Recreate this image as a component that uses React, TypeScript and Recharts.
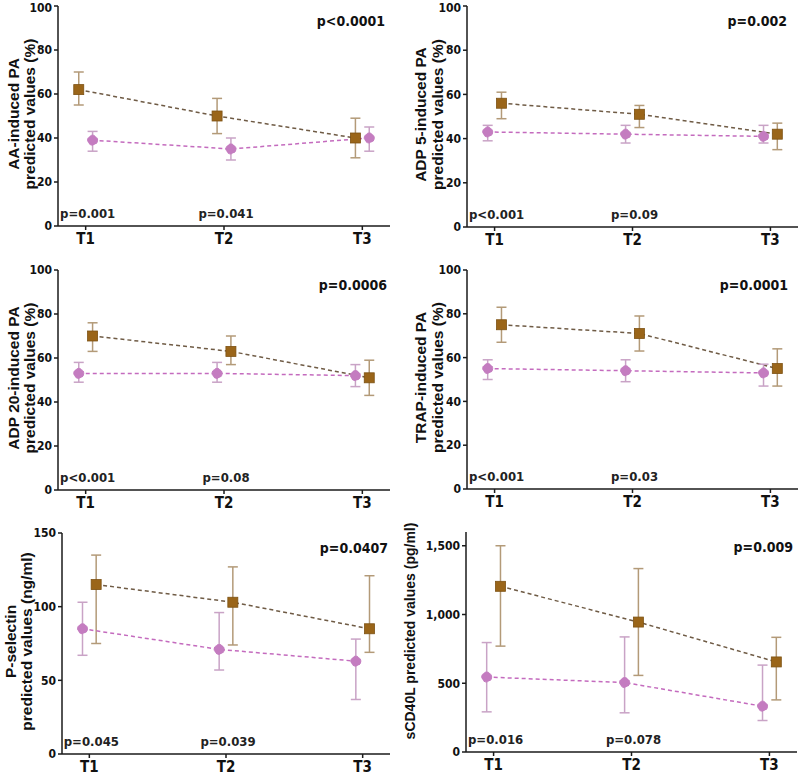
import React from 'react';
import { LineChart, Line, XAxis, YAxis, ErrorBar, ReferenceLine } from 'recharts';

const timepoints = ['T1', 'T2', 'T3'];

// AA-induced PA (%)
const aaBrown = [62, 50, 40];
const aaBrownLow = [55, 42, 31];
const aaBrownHigh = [70, 58, 49];
const aaPurple = [39, 35, 40];
const aaPurpleLow = [34, 30, 34];
const aaPurpleHigh = [43, 40, 45];
const aaPvals = ['p=0.001', 'p=0.041'];

// ADP 5-induced PA (%)
const adp5Brown = [56, 51, 42];
const adp5BrownLow = [49, 45, 35];
const adp5BrownHigh = [61, 55, 47];
const adp5Purple = [43, 42, 41];
const adp5PurpleLow = [39, 38, 38];
const adp5PurpleHigh = [46, 46, 46];
const adp5Pvals = ['p<0.001', 'p=0.09'];

// ADP 20-induced PA (%)
const adp20Brown = [70, 63, 51];
const adp20BrownLow = [63, 57, 43];
const adp20BrownHigh = [76, 70, 59];
const adp20Purple = [53, 53, 52];
const adp20PurpleLow = [49, 49, 47];
const adp20PurpleHigh = [58, 58, 57];
const adp20Pvals = ['p<0.001', 'p=0.08'];

// TRAP-induced PA (%)
const trapBrown = [75, 71, 55];
const trapBrownLow = [67, 63, 47];
const trapBrownHigh = [83, 79, 64];
const trapPurple = [55, 54, 53];
const trapPurpleLow = [50, 49, 47];
const trapPurpleHigh = [59, 59, 57];
const trapPvals = ['p<0.001', 'p=0.03'];

// P-selectin (ng/ml)
const pselBrown = [115, 103, 85];
const pselBrownLow = [75, 74, 69];
const pselBrownHigh = [135, 127, 121];
const pselPurple = [85, 71, 63];
const pselPurpleLow = [67, 57, 37];
const pselPurpleHigh = [103, 96, 78];
const pselPvals = ['p=0.045', 'p=0.039'];

// sCD40L (pg/ml)
const cd40Brown = [1205, 945, 655];
const cd40BrownLow = [770, 557, 379];
const cd40BrownHigh = [1500, 1334, 834];
const cd40Purple = [545, 505, 333];
const cd40PurpleLow = [292, 285, 229];
const cd40PurpleHigh = [796, 837, 632];
const cd40Pvals = ['p=0.016', 'p=0.078'];

const BROWN = '#9a6519';
const BROWN_ERR = '#b39a78';
const BROWN_LINE = '#6f5b45';
const PURPLE = '#c47cc0';
const PURPLE_ERR = '#c9a3c6';
const PURPLE_LINE = '#c46bbe';
const AXIS = '#1a1a1a';
const NUM_FONT = '"DejaVu Sans Condensed", "DejaVu Sans", Verdana, sans-serif';
const TITLE_FONT = '"Liberation Sans", Arial, sans-serif';

const toSeries = (vals: number[], lo: number[], hi: number[], shift: number) =>
  vals.map((v, i) => ({ x: i + 1 + shift, y: v, err: [v - lo[i], hi[i] - v] }));

const panels = [
  {
    left: 0, top: 0, height: 255, margin: { top: 6, right: 10, bottom: 9, left: 18 },
    title: ['AA-induced PA', 'predicted values (%)'], titleX: [39, 23], titleDy: -2, titleSize: 15.5,
    domain: [0, 100], ticks: [0, 20, 40, 60, 80, 100], overall: 'p<0.0001', overallDx: 5,
    brown: toSeries(aaBrown, aaBrownLow, aaBrownHigh, -0.05),
    purple: toSeries(aaPurple, aaPurpleLow, aaPurpleHigh, 0.05), pvals: aaPvals,
  },
  {
    left: 400, top: 0, height: 255, margin: { top: 6, right: 2, bottom: 8, left: 27 },
    title: ['ADP 5-induced PA', 'predicted values (%)'], titleX: [41, 24], titleDy: -2, titleSize: 15.5,
    domain: [0, 100], ticks: [0, 20, 40, 60, 80, 100], overall: 'p=0.002', overallDx: -1,
    brown: toSeries(adp5Brown, adp5BrownLow, adp5BrownHigh, 0.05),
    purple: toSeries(adp5Purple, adp5PurpleLow, adp5PurpleHigh, -0.05), pvals: adp5Pvals,
  },
  {
    left: 0, top: 255, height: 262, margin: { top: 15, right: 10, bottom: 7, left: 18 },
    title: ['ADP 20-induced PA', 'predicted values (%)'], titleX: [39, 23], titleDy: -2, titleSize: 15.5,
    domain: [0, 100], ticks: [0, 20, 40, 60, 80, 100], overall: 'p=0.0006', overallDx: 7,
    brown: toSeries(adp20Brown, adp20BrownLow, adp20BrownHigh, 0.05),
    purple: toSeries(adp20Purple, adp20PurpleLow, adp20PurpleHigh, -0.05), pvals: adp20Pvals,
  },
  {
    left: 400, top: 255, height: 262, margin: { top: 15, right: 2, bottom: 8, left: 27 },
    title: ['TRAP-induced PA', 'predicted values (%)'], titleX: [41, 24], titleDy: -2, titleSize: 15.5,
    domain: [0, 100], ticks: [0, 20, 40, 60, 80, 100], overall: 'p=0.0001', overallDx: 0,
    brown: toSeries(trapBrown, trapBrownLow, trapBrownHigh, 0.05),
    purple: toSeries(trapPurple, trapPurpleLow, trapPurpleHigh, -0.05), pvals: trapPvals,
  },
  {
    left: 0, top: 510, height: 265, margin: { top: 23, right: 10, bottom: 1, left: 22 },
    title: ['P-selectin', 'predicted values (ng/ml)'], titleX: [46, 30], titleDy: -2, titleSize: 15.5,
    domain: [0, 150], ticks: [0, 50, 100, 150], overall: 'p=0.0407', overallDx: 8,
    brown: toSeries(pselBrown, pselBrownLow, pselBrownHigh, 0.05),
    purple: toSeries(pselPurple, pselPurpleLow, pselPurpleHigh, -0.05), pvals: pselPvals,
  },
  {
    left: 400, top: 510, height: 265, margin: { top: 22, right: 3, bottom: 3, left: 26 },
    title: ['sCD40L predicted values (pg/ml)'], titleX: [51], titleDy: -11, titleSize: 14,
    domain: [0, 1600], ticks: [0, 500, 1000, 1500], overall: 'p=0.009', overallDx: 6,
    brown: toSeries(cd40Brown, cd40BrownLow, cd40BrownHigh, 0.05),
    purple: toSeries(cd40Purple, cd40PurpleLow, cd40PurpleHigh, -0.05), pvals: cd40Pvals,
  },
];

const SquareDot = (props: any) => {
  const { cx, cy, index } = props;
  if (cx == null || cy == null) return <g key={index} />;
  return <rect key={index} x={cx - 5} y={cy - 5} width={10} height={10} fill={BROWN} stroke="#7d5213" strokeWidth={0.8} />;
};

function PanelChart({ p }: { p: any }) {
  const axisTitle = (props: any) => {
    const vb = props.viewBox || {};
    const axisX = (vb.x ?? p.margin.left) + (vb.width ?? 40);
    const cy = (vb.y ?? p.margin.top) + (vb.height ?? 200) / 2 + p.titleDy;
    return (
      <g>
        {p.title.map((line: string, i: number) => {
          const x = axisX - p.titleX[i];
          return (
            <text key={i} x={x} y={cy} transform={`rotate(-90, ${x}, ${cy})`} textAnchor="middle"
              fontFamily={TITLE_FONT} fontWeight="bold" fontSize={p.titleSize} fill="#111">
              {line}
            </text>
          );
        })}
      </g>
    );
  };

  return (
    <div style={{ position: 'absolute', left: p.left, top: p.top }}>
      <LineChart width={400} height={p.height} margin={p.margin}>
        <XAxis type="number" dataKey="x" domain={[0.8, 3.2]} ticks={[1, 2, 3]} allowDataOverflow
          tickFormatter={(v: number) => timepoints[v - 1]} height={20} tickSize={4} tickMargin={3}
          stroke={AXIS} strokeWidth={1.5}
          tick={{ fill: '#111', fontSize: 15, fontWeight: 'bold', fontFamily: NUM_FONT }} />
        <YAxis type="number" domain={p.domain} ticks={p.ticks} width={40} allowDataOverflow
          tickFormatter={(v: number) => v.toLocaleString('en-US')} tickSize={4} tickMargin={2}
          stroke={AXIS} strokeWidth={1.5}
          tick={{ fill: '#111', fontSize: 12, fontWeight: 'bold', fontFamily: NUM_FONT }}
          label={{ content: axisTitle }} />
        <ReferenceLine y={p.domain[1]} stroke="none"
          label={{ value: p.overall, position: 'insideTopRight', offset: 10, dx: p.overallDx,
            fill: '#111', fontSize: 14, fontWeight: 'bold', fontFamily: NUM_FONT }} />
        {p.pvals.map((t: string, i: number) => (
          <ReferenceLine key={t + i} x={i + 1} stroke="none"
            label={{ value: t, position: 'insideBottom', offset: 8, dx: 2,
              fill: '#222', fontSize: 13, fontWeight: 'bold', fontFamily: NUM_FONT }} />
        ))}
        <Line data={p.brown} dataKey="y" stroke={BROWN_LINE} strokeWidth={1.5} strokeDasharray="4 3"
          dot={SquareDot} activeDot={false} isAnimationActive={false}>
          <ErrorBar dataKey="err" direction="y" width={5} stroke={BROWN_ERR} strokeWidth={1.5} isAnimationActive={false} />
        </Line>
        <Line data={p.purple} dataKey="y" stroke={PURPLE_LINE} strokeWidth={1.5} strokeDasharray="4 3"
          dot={{ r: 5, fill: PURPLE, stroke: PURPLE, strokeWidth: 1 }} activeDot={false} isAnimationActive={false}>
          <ErrorBar dataKey="err" direction="y" width={5} stroke={PURPLE_ERR} strokeWidth={1.5} isAnimationActive={false} />
        </Line>
      </LineChart>
    </div>
  );
}

export default function App() {
  return (
    <div style={{ position: 'absolute', left: 0, top: 0, width: 800, height: 775, background: '#fff' }}>
      {panels.map((p, i) => <PanelChart key={i} p={p} />)}
    </div>
  );
}
